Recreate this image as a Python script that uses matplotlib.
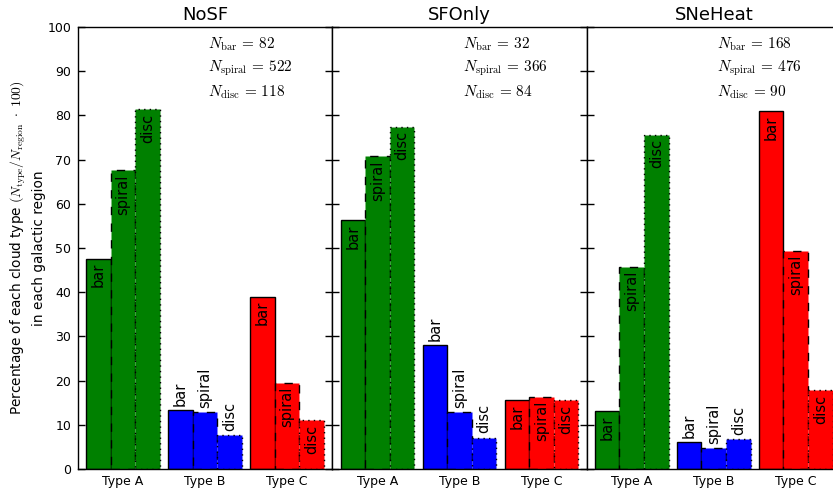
import matplotlib
matplotlib.use('Agg')
import matplotlib.pyplot as plt

plt.rcParams['font.family'] = ['DejaVu Sans']
plt.rcParams['mathtext.fontset'] = 'cm'
plt.rcParams['lines.dashed_pattern'] = [6, 6]
plt.rcParams['lines.dotted_pattern'] = [1, 3]
plt.rcParams['lines.scale_dashes'] = False

# ---- data ----
runs = ["NoSF", "SFOnly", "SNeHeat"]
cloud_types = ["Type A", "Type B", "Type C"]
regions = ["bar", "spiral", "disc"]

# percentage of each cloud type in each region; rows = cloud type, cols = region (bar, spiral, disc)
nosf_pct = [[47.6, 67.6, 81.4],
            [13.4, 12.8, 7.6],
            [39.0, 19.5, 11.0]]
sfonly_pct = [[56.3, 70.8, 77.4],
              [28.1, 12.8, 7.1],
              [15.6, 16.4, 15.5]]
sneheat_pct = [[13.1, 45.8, 75.6],
               [6.0, 4.8, 6.7],
               [81.0, 49.4, 17.8]]

nosf_counts = [82, 522, 118]
sfonly_counts = [32, 366, 84]
sneheat_counts = [168, 476, 90]

# labels for Type B drawn above the bars, others inside
label_above = [False, True, False]

type_colors = ["green", "blue", "red"]
region_styles = ["solid", "dashed", "dotted"]

all_pct = [nosf_pct, sfonly_pct, sneheat_pct]
all_counts = [nosf_counts, sfonly_counts, sneheat_counts]

fig = plt.figure(figsize=(8.33, 4.91), dpi=100)
left0 = 78 / 833.0
w = 254.3 / 833.0
bottom = 22 / 491.0
h = 442 / 491.0

bw = 0.3
for k, run in enumerate(runs):
    ax = fig.add_axes([left0 + k * w, bottom, w, h])
    pct = all_pct[k]
    for i in range(len(cloud_types)):
        for j in range(len(regions)):
            x = i + (j - 1) * bw
            val = pct[i][j]
            ax.bar(x, val, width=bw, color=type_colors[i], edgecolor='black',
                   linewidth=1.0, linestyle=region_styles[j], zorder=1)
            if label_above[i]:
                ax.annotate(regions[j], (x, val), xytext=(0, 3), textcoords='offset points',
                            ha='center', va='bottom', rotation=90, fontsize=10.5, zorder=3)
            else:
                ax.annotate(regions[j], (x, val), xytext=(0, -3), textcoords='offset points',
                            ha='center', va='top', rotation=90, fontsize=10.5, zorder=3)
    ax.set_xlim(-0.55, 2.55)
    ax.set_ylim(0, 100)
    ax.set_yticks(range(0, 101, 10))
    ax.set_xticks(range(len(cloud_types)))
    ax.set_xticklabels(cloud_types, fontsize=9)
    ax.tick_params(axis='x', length=0, pad=4)
    ax.tick_params(axis='y', direction='in', length=5, width=1, left=True, right=True,
                   labelsize=9, pad=5)
    if k > 0:
        ax.tick_params(axis='y', labelleft=False)
    for sp in ax.spines.values():
        sp.set_linewidth(1.0)
    ax.set_title(run, fontsize=13, pad=5)
    c = all_counts[k]
    txt = (r"$N_{\rm bar}\,=\,%d$" % c[0] + "\n" +
           r"$N_{\rm spiral}\,=\,%d$" % c[1] + "\n" +
           r"$N_{\rm disc}\,=\,%d$" % c[2])
    ax.text(0.512, 0.98, txt, transform=ax.transAxes, ha='left', va='top',
            fontsize=11, linespacing=1.4)
    if k == 0:
        ax.set_ylabel("Percentage of each cloud type $(N_{\\rm type}/N_{\\rm region}\\ \\cdot\\ 100)$\n"
                      "in each galactic region", fontsize=9.8, labelpad=1, linespacing=1.3)

fig.savefig("out.png", dpi=100)
